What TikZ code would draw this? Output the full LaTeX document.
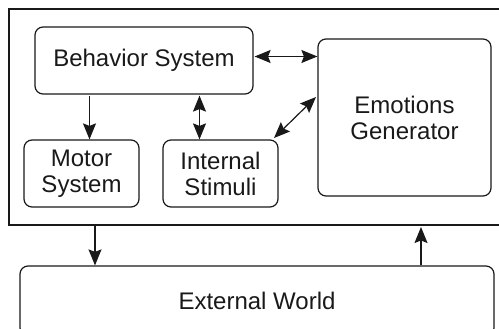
\documentclass[tikz,border=0pt]{standalone}
\usepackage{fontspec}
\setmainfont{Liberation Sans}
\usetikzlibrary{arrows.meta}
\begin{document}
\begin{tikzpicture}[x=1pt,y=-1pt,
  tip/.tip={Stealth[length=16pt,width=13pt,inset=2.5pt]},
  box/.style={draw=black!90,line width=1.2pt,rounded corners=8pt,align=center,
    font=\fontsize{24}{26}\selectfont,text=black!90,inner sep=0pt},
  link/.style={draw=black!90,line width=1.2pt,-tip},
  both/.style={link,tip-tip}]
\useasboundingbox (0,0) rectangle (499,329);
\clip (0,0) rectangle (499,329);
% enclosing agent frame
\draw[black!90,line width=1.2pt] (9,9) rectangle (520,225);
% components
\node[box,minimum width=218pt,minimum height=67pt] (beh) at (144,60.5) {Behavior System};
\node[box,minimum width=173pt,minimum height=157pt] (emo) at (404.5,117.5) {Emotions\\Generator};
\node[box,minimum width=115pt,minimum height=67pt] (mot) at (81.5,173.5) {Motor\\System};
\node[box,minimum width=115pt,minimum height=67pt] (int) at (220.5,173.5) {Internal\\Stimuli};
\node[box,minimum width=474pt,minimum height=70pt] (ext) at (257,301) {External World};
% connections between components
\draw[link] (beh.south -| mot) ++(8,1) coordinate (m1) -- (m1 |- mot.north);
\draw[both] (beh.south -| int) ++(-21,1) coordinate (i1) -- (i1 |- int.north);
\draw[both] (beh.east) ++(1,-4) coordinate (e1) -- (e1 -| emo.west);
\coordinate (e2) at (316,97);
\coordinate (i2) at (274,138);
\draw[both] (i2) -- (e2);
% links with the outside world
\coordinate (o1) at (95,226);
\coordinate (o2) at (421,227);
\draw[link] (o1) -- (o1 |- ext.north);
\draw[link] (o2 |- ext.north) -- (o2);
\end{tikzpicture}
\end{document}
